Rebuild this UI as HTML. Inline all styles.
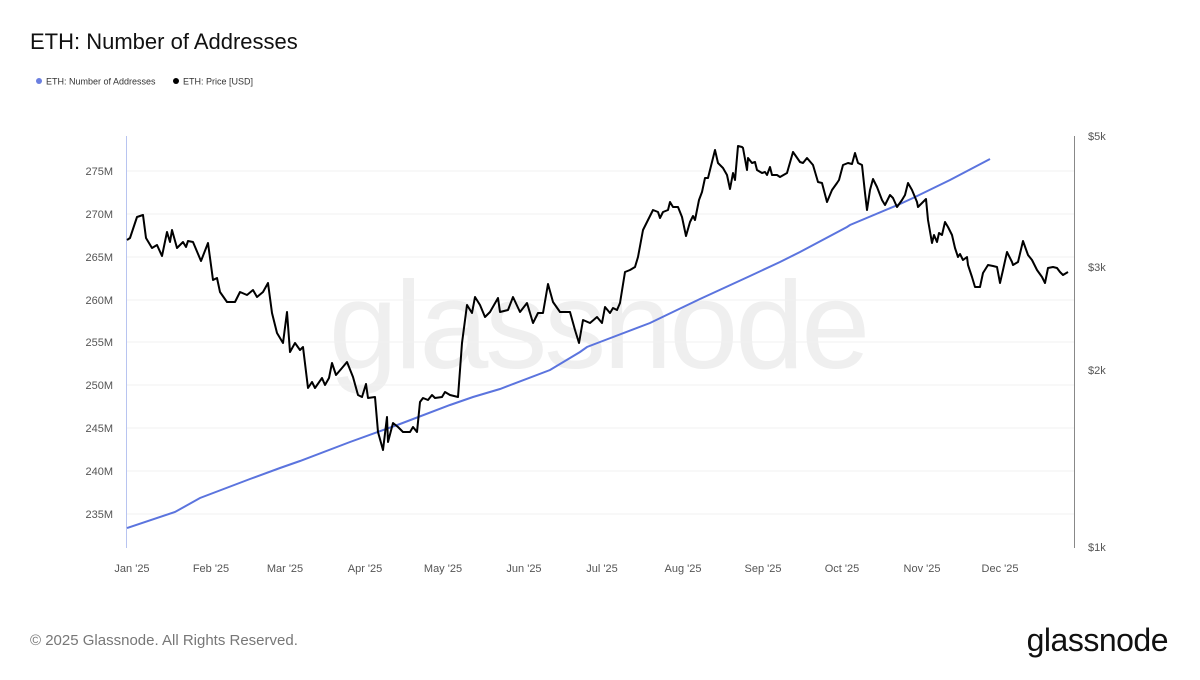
<!DOCTYPE html>
<html><head><meta charset="utf-8"><style>
body{margin:0;background:#fff;font-family:"Liberation Sans",sans-serif;}
</style></head><body>
<svg width="1200" height="675" viewBox="0 0 1200 675" xmlns="http://www.w3.org/2000/svg" font-family="Liberation Sans, sans-serif">
<rect width="1200" height="675" fill="#fff"/>
<text x="30" y="49" font-size="22" fill="#111">ETH: Number of Addresses</text>
<circle cx="39" cy="81" r="3" fill="#6b7fe0"/>
<text x="46" y="84.5" font-size="9" fill="#333">ETH: Number of Addresses</text>
<circle cx="176" cy="81" r="3" fill="#000"/>
<text x="183" y="84.5" font-size="9" fill="#333">ETH: Price [USD]</text>
<text x="598" y="368" font-size="124" fill="#efefef" text-anchor="middle" letter-spacing="-3">glassnode</text>
<g stroke="#f0f0f0" stroke-width="1">
<line x1="127" x2="1074" y1="171" y2="171"/><line x1="127" x2="1074" y1="214" y2="214"/>
<line x1="127" x2="1074" y1="257" y2="257"/><line x1="127" x2="1074" y1="300" y2="300"/>
<line x1="127" x2="1074" y1="342" y2="342"/><line x1="127" x2="1074" y1="385" y2="385"/>
<line x1="127" x2="1074" y1="428" y2="428"/><line x1="127" x2="1074" y1="471" y2="471"/>
<line x1="127" x2="1074" y1="514" y2="514"/>
</g>
<line x1="126.5" y1="136" x2="126.5" y2="548" stroke="#b8c4f0" stroke-width="1"/>
<line x1="1074.5" y1="136" x2="1074.5" y2="548" stroke="#888" stroke-width="1"/>
<g font-size="11" fill="#555" text-anchor="end">
<text x="113" y="175">275M</text><text x="113" y="218">270M</text><text x="113" y="261">265M</text>
<text x="113" y="304">260M</text><text x="113" y="346">255M</text><text x="113" y="389">250M</text>
<text x="113" y="432">245M</text><text x="113" y="475">240M</text><text x="113" y="518">235M</text>
</g>
<g font-size="11" fill="#555">
<text x="1088" y="140">$5k</text><text x="1088" y="271">$3k</text><text x="1088" y="374">$2k</text><text x="1088" y="551">$1k</text>
</g>
<g font-size="11" fill="#555" text-anchor="middle">
<text x="132" y="572">Jan '25</text><text x="211" y="572">Feb '25</text><text x="285" y="572">Mar '25</text>
<text x="365" y="572">Apr '25</text><text x="443" y="572">May '25</text><text x="524" y="572">Jun '25</text>
<text x="602" y="572">Jul '25</text><text x="683" y="572">Aug '25</text><text x="763" y="572">Sep '25</text>
<text x="842" y="572">Oct '25</text><text x="922" y="572">Nov '25</text><text x="1000" y="572">Dec '25</text>
</g>
<polyline fill="none" stroke="#5b74de" stroke-width="2" points="127,528 175,512 200,498 250,479 280,468 300,461 350,442 400,424 450,405 473,397 500,389 550,370 580,352 587,347 600,342 650,323 677,310 700,299 750,276 780,262 800,252 847,227 850,225 900,204 913,198 950,180 990,159"/>
<polyline fill="none" stroke="#000" stroke-width="2" stroke-linejoin="round" points="127,240 130,238 137,217 140,216 143,215 146,238 152,248 157,245 162,256 167,232 170,242 172,230 177,248 183,242 186,247 188,241 193,242 201,261 208,243 213,280 217,278 220,292 227,302 235,302 240,292 247,295 253,290 257,297 263,292 268,283 272,313 277,333 283,343 287,312 290,352 295,343 300,350 303,347 308,388 312,382 315,388 322,378 325,385 329,378 332,363 336,375 342,368 347,362 353,377 358,395 362,397 366,384 368,398 375,397 378,432 383,450 387,417 388,442 393,423 398,427 403,432 410,432 413,427 417,432 420,402 423,398 428,400 432,395 435,398 442,397 445,392 450,395 458,397 462,343 467,305 472,313 475,297 480,305 485,317 490,312 498,298 500,312 508,310 513,297 520,312 527,303 533,323 538,313 543,313 548,284 553,302 560,312 570,312 575,330 579,343 583,320 590,323 597,317 602,323 605,307 610,313 613,308 617,310 620,303 625,272 630,270 635,267 638,257 643,230 648,220 653,210 658,212 660,218 663,212 668,210 670,202 673,207 678,207 682,217 686,236 690,222 693,216 695,220 699,200 702,192 705,178 708,178 712,162 715,150 718,163 723,168 727,175 730,189 733,173 735,180 738,146 742,147 743,148 747,170 748,158 752,163 755,162 757,170 762,173 765,172 767,175 770,167 772,175 777,175 780,177 787,173 793,152 800,162 803,163 807,158 813,165 818,182 822,183 827,202 832,190 837,183 839,180 843,165 848,163 852,164 855,153 858,163 862,165 865,193 867,210 870,190 873,179 877,187 882,200 885,205 890,195 893,198 897,207 902,200 905,195 908,183 912,190 917,202 918,207 922,203 926,199 928,220 932,243 934,235 937,242 939,233 942,235 945,222 948,227 952,235 955,248 958,257 960,254 963,260 967,257 968,265 972,277 975,287 980,287 983,273 988,265 993,266 997,267 1000,283 1003,270 1007,252 1012,262 1013,265 1018,262 1023,241 1028,255 1032,260 1037,270 1042,277 1045,283 1048,268 1053,267 1057,268 1060,272 1063,275 1068,272"/>
<text x="30" y="645" font-size="15" fill="#777">© 2025 Glassnode. All Rights Reserved.</text>
<text x="1168" y="651" font-size="32" fill="#111" text-anchor="end" letter-spacing="-0.5">glassnode</text>
</svg>
</body></html>
